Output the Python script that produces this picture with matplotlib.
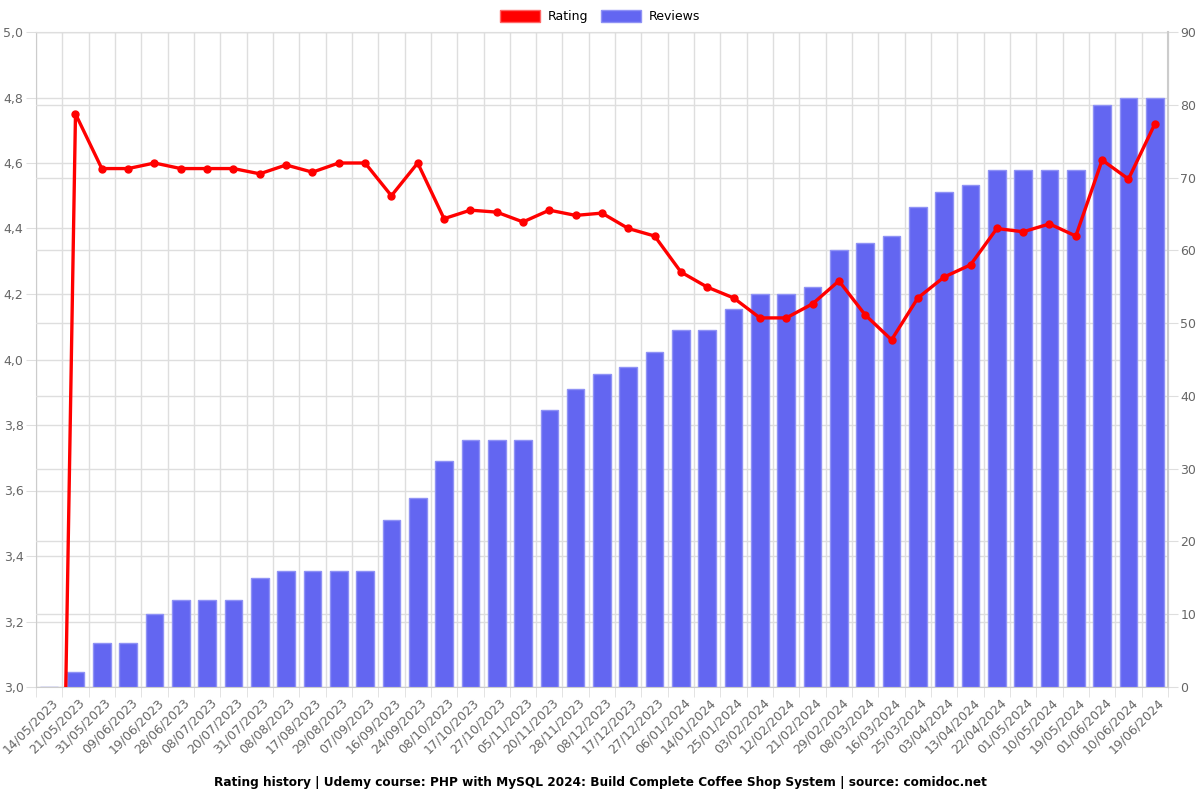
import matplotlib
matplotlib.use("Agg")
import matplotlib.pyplot as plt
from matplotlib.patches import Patch
from matplotlib.transforms import ScaledTranslation
import numpy as np

dates = ["14/05/2023", "21/05/2023", "31/05/2023", "09/06/2023", "19/06/2023", "28/06/2023",
         "08/07/2023", "20/07/2023", "31/07/2023", "08/08/2023", "17/08/2023", "29/08/2023",
         "07/09/2023", "16/09/2023", "24/09/2023", "08/10/2023", "17/10/2023", "27/10/2023",
         "05/11/2023", "20/11/2023", "28/11/2023", "08/12/2023", "17/12/2023", "27/12/2023",
         "06/01/2024", "14/01/2024", "25/01/2024", "03/02/2024", "12/02/2024", "21/02/2024",
         "29/02/2024", "08/03/2024", "16/03/2024", "25/03/2024", "03/04/2024", "13/04/2024",
         "22/04/2024", "01/05/2024", "10/05/2024", "19/05/2024", "01/06/2024", "10/06/2024",
         "19/06/2024"]

reviews = [0, 2, 6, 6, 10, 12, 12, 12, 15, 16, 16, 16, 16, 23, 26, 31, 34, 34, 34, 38, 41,
           43, 44, 46, 49, 49, 52, 54, 54, 55, 60, 61, 62, 66, 68, 69, 71, 71, 71, 71, 80,
           81, 81]

rating = [0, 4.75, 4.583, 4.583, 4.6, 4.583, 4.583, 4.583, 4.567, 4.594, 4.572, 4.6, 4.6,
          4.5, 4.6, 4.43, 4.456, 4.45, 4.42, 4.456, 4.44, 4.447, 4.40, 4.377, 4.267, 4.221,
          4.188, 4.127, 4.127, 4.17, 4.24, 4.136, 4.06, 4.188, 4.252, 4.289, 4.40, 4.39,
          4.414, 4.377, 4.609, 4.551, 4.719]

rating_ticks = [3.0, 3.2, 3.4, 3.6, 3.8, 4.0, 4.2, 4.4, 4.6, 4.8, 5.0]
review_ticks = [0, 10, 20, 30, 40, 50, 60, 70, 80, 90]

TICK_COLOR = "#666666"
GRID_COLOR = "#dedede"
BAR_COLOR = "#6366F1"
BAR_EDGE = "#8f92f5"
LINE_COLOR = "#FF0000"

fig = plt.figure(figsize=(12, 8), dpi=100)
ax1 = fig.add_axes([0.03, 0.14125, 0.9433, 0.81875])
x = np.arange(len(dates))

# left (rating) axis: grid + labels
ax1.set_xlim(-0.5, len(dates) - 0.5)
ax1.set_ylim(3.0, 5.0)
ax1.set_yticks(rating_ticks)
ax1.set_yticklabels([f"{v:.1f}".replace(".", ",") for v in rating_ticks])
ax1.grid(True, axis="y", color=GRID_COLOR, linewidth=1)
ax1.set_xticks(x)
ax1.set_xticks(np.arange(len(dates) + 1) - 0.5, minor=True)
ax1.grid(True, axis="x", which="minor", color=GRID_COLOR, linewidth=1)
ax1.grid(False, axis="x", which="major")
ax1.set_xticklabels(dates, rotation=45, ha="right", va="center", rotation_mode="anchor")
ax1.tick_params(axis="x", which="major", length=0, pad=10, colors=TICK_COLOR, labelsize=9)
ax1.tick_params(axis="x", which="minor", length=7, color=GRID_COLOR)
ax1.tick_params(axis="y", length=7, color=GRID_COLOR, labelcolor=TICK_COLOR, labelsize=9, pad=2)
offset = ScaledTranslation(0.07, 0, fig.dpi_scale_trans)
for lab in ax1.get_xticklabels():
    lab.set_transform(lab.get_transform() + offset)
for s in ax1.spines.values():
    s.set_color("#cccccc")
ax1.set_axisbelow(True)

# right (reviews) axis: bars
ax2 = ax1.twinx()
ax2.set_ylim(0, 90)
ax2.set_yticks(review_ticks)
ax2.grid(True, axis="y", color=GRID_COLOR, linewidth=1, zorder=0)
ax2.set_axisbelow(True)
ax2.bar(x, reviews, width=0.67, color=BAR_COLOR, edgecolor=BAR_EDGE, linewidth=1, zorder=2)
ax2.tick_params(axis="y", length=7, color=GRID_COLOR, labelcolor=TICK_COLOR, labelsize=9, pad=2)
for s in ax2.spines.values():
    s.set_visible(False)
ax2.spines["right"].set_visible(True)
ax2.spines["right"].set_color("#cccccc")
ax2.spines["right"].set_linewidth(1.5)

# line on top, sharing the rating scale
ax3 = ax1.twinx()
ax3.set_ylim(3.0, 5.0)
ax3.plot(x, rating, color=LINE_COLOR, linewidth=2.4, marker="o", markersize=5, zorder=5)
ax3.set_yticks([])
ax3.axis("off")

handles = [Patch(facecolor=LINE_COLOR, edgecolor="#ff6666"),
           Patch(facecolor=BAR_COLOR, edgecolor=BAR_EDGE)]
fig.legend(handles, ["Rating", "Reviews"], loc="center", bbox_to_anchor=(0.5, 0.979),
           ncol=2, frameon=False, fontsize=9, handlelength=3.2, handleheight=1.0,
           columnspacing=1.0, handletextpad=0.6)

fig.text(0.5, 0.022, "Rating history | Udemy course: PHP with MySQL 2024: Build Complete Coffee Shop System | source: comidoc.net",
         ha="center", va="center", fontsize=8.7, fontweight="bold")

fig.savefig("out.png", dpi=100)
